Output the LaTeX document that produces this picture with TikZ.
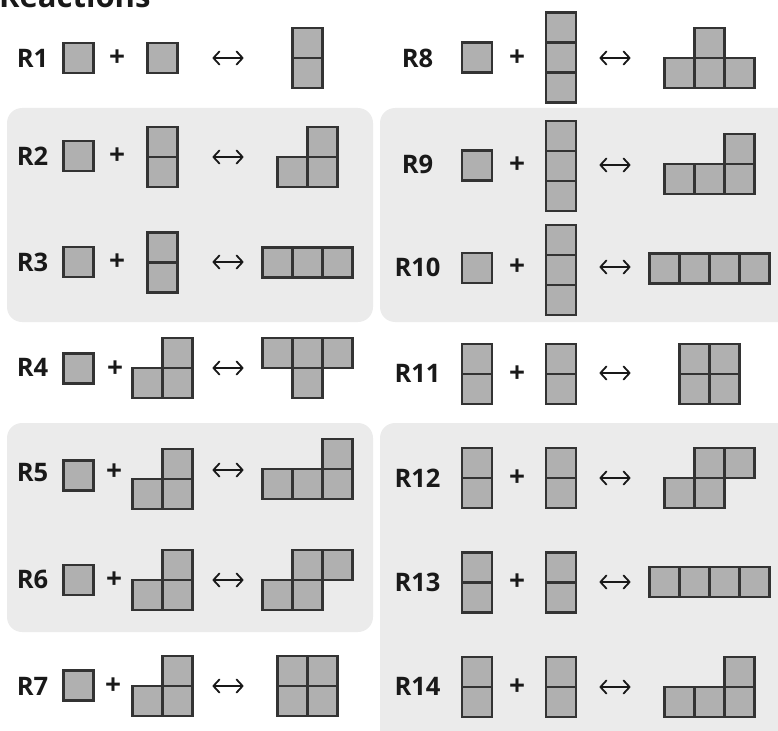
\documentclass[tikz,border=0pt]{standalone}
\usepackage{fontspec}
\setmainfont{Open Sans}
\usetikzlibrary{arrows.meta}
\begin{document}
\begin{tikzpicture}[x=1pt,y=-1pt,
  cell/.style={rectangle,draw=cellline,fill=cellfill,line width=2.8pt,minimum size=30pt,inner sep=0pt,outer sep=0pt},
  lbl/.style={font=\bfseries\fontsize{25.5}{25.5}\selectfont,inner sep=0pt,text=black!90},
  plus/.style={font=\bfseries\fontsize{28}{28}\selectfont,inner sep=0pt,text=black!90},
  rev/.style={line width=1.8pt,black!90,line cap=round,{Straight Barb[length=6pt,width=13pt,line join=round,line cap=round]}-{Straight Barb[length=6pt,width=13pt,line join=round,line cap=round]}},
  panel/.style={fill=panelfill,rounded corners=15pt,draw=none}]
\definecolor{cellline}{HTML}{333333}
\definecolor{cellfill}{HTML}{B0B0B0}
\definecolor{panelfill}{HTML}{EBEBEB}
\newcommand\revarrow[3]{\coordinate (#1w) at (#2-15.5,#3); \coordinate (#1e) at (#2+15.5,#3); \draw[rev] (#1w) -- (#1e);}
\useasboundingbox (0,0) rectangle (778,730);
% panels
\fill[panel] (7,108) rectangle (373,322);
\fill[panel] (380,108) rectangle (793,322);
\fill[panel] (7,423) rectangle (373,632);
\fill[panel] (380,423) rectangle (793,745);
% title
\node[anchor=base west,inner sep=0pt,font=\bfseries\fontsize{31}{31}\selectfont,text=black!90] (title) at (-1,8) {Reactions};
% ---------------- left column ----------------
% R1
\node[lbl] (l1) at (32.5,58) {R1};
\node[cell] (r1a) at (78.5,58) {};
\node[plus] (p1) at (117,58) {+};
\node[cell] (r1b) at (162.5,58) {};
\revarrow{a1}{228}{58}
\node[cell] (r1c1) at (307.5,43) {};
\node[cell] (r1c2) at (307.5,73) {};
% R2
\node[lbl] (l2) at (32.5,156) {R2};
\node[cell] (r2a) at (78.5,156) {};
\node[plus] (p2) at (117,156) {+};
\node[cell] (r2b1) at (162.5,142) {};
\node[cell] (r2b2) at (162.5,172) {};
\revarrow{a2}{228}{157}
\node[cell] (r2c1) at (292.5,172) {};
\node[cell] (r2c2) at (322.5,172) {};
\node[cell] (r2c3) at (322.5,142) {};
% R3
\node[lbl] (l3) at (32.5,262) {R3};
\node[cell] (r3a) at (78.5,262) {};
\node[plus] (p3) at (117,262) {+};
\node[cell] (r3b1) at (162.5,247.5) {};
\node[cell] (r3b2) at (162.5,277.5) {};
\revarrow{a3}{228}{262}
\node[cell] (r3c1) at (277.5,262.5) {};
\node[cell] (r3c2) at (307.5,262.5) {};
\node[cell] (r3c3) at (337.5,262.5) {};
% R4
\node[lbl] (l4) at (32.5,367) {R4};
\node[cell] (r4a) at (78.5,368.5) {};
\node[plus] (p4) at (115,369) {+};
\node[cell] (r4b1) at (147.5,383) {};
\node[cell] (r4b2) at (177.5,383) {};
\node[cell] (r4b3) at (177.5,353) {};
\revarrow{a4}{228}{368}
\node[cell] (r4c1) at (277.5,353) {};
\node[cell] (r4c2) at (307.5,353) {};
\node[cell] (r4c3) at (337.5,353) {};
\node[cell] (r4c4) at (307.5,383) {};
% R5
\node[lbl] (l5) at (32.5,473) {R5};
\node[cell] (r5a) at (78.5,475.5) {};
\node[plus] (p5) at (114,472) {+};
\node[cell] (r5b1) at (147.5,494) {};
\node[cell] (r5b2) at (177.5,494) {};
\node[cell] (r5b3) at (177.5,464) {};
\revarrow{a5}{228}{470}
\node[cell] (r5c1) at (277.5,484) {};
\node[cell] (r5c2) at (307.5,484) {};
\node[cell] (r5c3) at (337.5,484) {};
\node[cell] (r5c4) at (337.5,454) {};
% R6
\node[lbl] (l6) at (32.5,579) {R6};
\node[cell] (r6a) at (78.5,580) {};
\node[plus] (p6) at (114,580) {+};
\node[cell] (r6b1) at (147.5,595) {};
\node[cell] (r6b2) at (177.5,595) {};
\node[cell] (r6b3) at (177.5,565) {};
\revarrow{a6}{228}{580}
\node[cell] (r6c1) at (307.5,565) {};
\node[cell] (r6c2) at (337.5,565) {};
\node[cell] (r6c3) at (277.5,595) {};
\node[cell] (r6c4) at (307.5,595) {};
% R7
\node[lbl] (l7) at (32.5,686) {R7};
\node[cell] (r7a) at (78.5,685.5) {};
\node[plus] (p7) at (113,686) {+};
\node[cell] (r7b1) at (147.5,701) {};
\node[cell] (r7b2) at (177.5,701) {};
\node[cell] (r7b3) at (177.5,671) {};
\revarrow{a7}{228}{686}
\node[cell] (r7c1) at (292.5,671) {};
\node[cell] (r7c2) at (322.5,671) {};
\node[cell] (r7c3) at (292.5,701) {};
\node[cell] (r7c4) at (322.5,701) {};
% ---------------- right column ----------------
% R8
\node[lbl] (l8) at (417.5,58) {R8};
\node[cell] (r8a) at (477,57.5) {};
\node[plus] (p8) at (517,58) {+};
\node[cell] (r8b1) at (561,27.5) {};
\node[cell] (r8b2) at (561,57.5) {};
\node[cell] (r8b3) at (561,87.5) {};
\revarrow{a8}{615}{58}
\node[cell] (r8c1) at (679.5,73) {};
\node[cell] (r8c2) at (709.5,73) {};
\node[cell] (r8c3) at (739.5,73) {};
\node[cell] (r8c4) at (709.5,43) {};
% R9
\node[lbl] (l9) at (417.5,164) {R9};
\node[cell] (r9a) at (477,165.5) {};
\node[plus] (p9) at (517,165) {+};
\node[cell] (r9b1) at (561,136) {};
\node[cell] (r9b2) at (561,166) {};
\node[cell] (r9b3) at (561,196) {};
\revarrow{a9}{615}{165}
\node[cell] (r9c1) at (679.5,179) {};
\node[cell] (r9c2) at (709.5,179) {};
\node[cell] (r9c3) at (739.5,179) {};
\node[cell] (r9c4) at (739.5,149) {};
% R10
\node[lbl] (l10) at (417.5,267) {R10};
\node[cell] (r10a) at (477,268) {};
\node[plus] (p10) at (517,267) {+};
\node[cell] (r10b1) at (561,240) {};
\node[cell] (r10b2) at (561,270) {};
\node[cell] (r10b3) at (561,300) {};
\revarrow{a10}{615}{267}
\node[cell] (r10c1) at (664.5,268.5) {};
\node[cell] (r10c2) at (694.5,268.5) {};
\node[cell] (r10c3) at (724.5,268.5) {};
\node[cell] (r10c4) at (754.5,268.5) {};
% R11
\node[lbl] (l11) at (417.5,373) {R11};
\node[cell] (r11a1) at (477,359) {};
\node[cell] (r11a2) at (477,389) {};
\node[plus] (p11) at (517,374) {+};
\node[cell] (r11b1) at (561,359) {};
\node[cell] (r11b2) at (561,389) {};
\revarrow{a11}{615}{373}
\node[cell] (r11c1) at (694.5,359) {};
\node[cell] (r11c2) at (724.5,359) {};
\node[cell] (r11c3) at (694.5,389) {};
\node[cell] (r11c4) at (724.5,389) {};
% R12
\node[lbl] (l12) at (417.5,478) {R12};
\node[cell] (r12a1) at (477,463) {};
\node[cell] (r12a2) at (477,493) {};
\node[plus] (p12) at (517,478) {+};
\node[cell] (r12b1) at (561,463) {};
\node[cell] (r12b2) at (561,493) {};
\revarrow{a12}{615}{478}
\node[cell] (r12c1) at (709.5,463) {};
\node[cell] (r12c2) at (739.5,463) {};
\node[cell] (r12c3) at (679.5,493) {};
\node[cell] (r12c4) at (709.5,493) {};
% R13
\node[lbl] (l13) at (417.5,582) {R13};
\node[cell] (r13a1) at (477,567.5) {};
\node[cell] (r13a2) at (477,597.5) {};
\node[plus] (p13) at (517,582) {+};
\node[cell] (r13b1) at (561,567.5) {};
\node[cell] (r13b2) at (561,597.5) {};
\revarrow{a13}{615}{582}
\node[cell] (r13c1) at (664.5,582) {};
\node[cell] (r13c2) at (694.5,582) {};
\node[cell] (r13c3) at (724.5,582) {};
\node[cell] (r13c4) at (754.5,582) {};
% R14
\node[lbl] (l14) at (417.5,686) {R14};
\node[cell] (r14a1) at (477,672) {};
\node[cell] (r14a2) at (477,702) {};
\node[plus] (p14) at (517,687) {+};
\node[cell] (r14b1) at (561,672) {};
\node[cell] (r14b2) at (561,702) {};
\revarrow{a14}{615}{687}
\node[cell] (r14c1) at (679.5,702) {};
\node[cell] (r14c2) at (709.5,702) {};
\node[cell] (r14c3) at (739.5,702) {};
\node[cell] (r14c4) at (739.5,672) {};
\end{tikzpicture}
\end{document}
